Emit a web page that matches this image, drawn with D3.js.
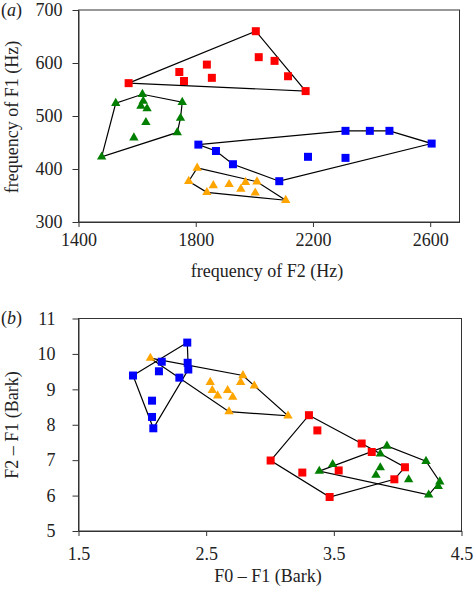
<!DOCTYPE html>
<html><head><meta charset="utf-8">
<script src="https://cdn.jsdelivr.net/npm/d3@7"></script>
<style>body{margin:0;background:#fff}</style>
</head><body><svg id="c" width="474" height="590"></svg>
<script>
// Panel (a): F2 (Hz) vs F1 (Hz)
const aRed = [[1571,562],[2005,660],[2015,611],[2069,604],[2115,575],[2175,547],[1744,583],[1760,566],[1838,597],[1855,572]];
const aRedHull = [0,1,5];
const aGreen = [[1479,423],[1527,524],[1618,541],[1621,528],[1613,519],[1634,514],[1630,488],[1589,459],[1754,526],[1748,496],[1737,469]];
const aGreenHull = [0,1,2,8,9,10];
const aBlue = [[1809,446],[1869,434],[1927,409],[2085,377],[2183,423],[2311,421],[2311,472],[2394,472],[2461,472],[2605,448]];
const aBlueHull = [0,6,7,8,9,3,2,1];
const aOrange = [[1805,402],[1776,377],[1838,356],[1860,369],[1914,371],[1954,362],[1970,375],[2009,376],[2003,355],[2107,341]];
const aOrangeHull = [0,7,9,2,1];
const aXTicks = [1400,1800,2200,2600];
const aYTicks = [300,400,500,600,700];

// Panel (b): F0-F1 (Bark) vs F2-F1 (Bark)
const bBlue = [[2.352,10.32],[2.152,9.78],[2.355,9.75],[2.36,9.56],[2.13,9.51],[1.927,9.39],[2.29,9.33],[2.076,8.68],[2.076,8.22],[2.086,7.90]];
const bBlueHull = [5,0,3,9];
const bOrange = [[2.063,9.88],[2.788,9.39],[2.77,9.20],[2.877,9.10],[2.532,9.20],[2.548,8.97],[2.668,8.97],[2.59,8.82],[2.708,8.78],[2.679,8.37],[3.141,8.25]];
const bOrangeHull = [0,1,10,9];
const bRed = [[3.305,8.27],[3.371,7.84],[3.718,7.47],[3.797,7.23],[4.057,6.80],[3.974,6.46],[3.538,6.71],[3.253,6.65],[3.005,6.99],[3.467,5.96]];
const bRedHull = [0,2,4,5,9,8];
const bGreen = [[3.916,7.40],[3.864,7.18],[4.222,6.97],[3.491,6.88],[3.386,6.69],[3.864,6.79],[3.83,6.58],[4.086,6.45],[4.33,6.39],[4.318,6.26],[4.243,6.02]];
const bGreenHull = [4,0,2,8,10];
const bXTicks = [1.5,2.5,3.5,4.5];
const bYTicks = [5,6,7,8,9,10,11];

const RED="#ff0000", GREEN="#007f00", BLUE="#0000ff", ORANGE="#ffa500";
const FONT = "'Liberation Serif', 'Times New Roman', Times, serif";
const FS = "18px";
const svg = d3.select("#c");

function panel(cfg){
  const g = svg.append("g");
  const x = d3.scaleLinear().domain(cfg.xd).range(cfg.xr);
  const y = d3.scaleLinear().domain(cfg.yd).range(cfg.yr);
  g.append("rect").attr("x",cfg.xr[0]).attr("y",cfg.yr[1]).attr("width",cfg.xr[1]-cfg.xr[0]).attr("height",cfg.yr[0]-cfg.yr[1])
   .attr("fill","none").attr("stroke","#333").attr("stroke-width",1);
  const xa = g.append("g").attr("transform",`translate(0,${cfg.yr[0]})`)
    .call(d3.axisBottom(x).tickValues(cfg.xt).tickSize(5).tickSizeOuter(0).tickPadding(cfg.xpad).tickFormat(cfg.xf));
  const ya = g.append("g").attr("transform",`translate(${cfg.xr[0]},0)`)
    .call(d3.axisLeft(y).tickValues(cfg.yt).tickSize(6).tickSizeOuter(0).tickPadding(cfg.ypad).tickFormat(d3.format("d")));
  [xa,ya].forEach(a=>{a.attr("font-family",FONT).attr("font-size",18);
    a.select(".domain").attr("stroke","#333");a.selectAll(".tick line").attr("stroke","#333");
    a.selectAll("text").attr("fill","#222").style("font-family",FONT).style("font-size",FS);});
  const line = d3.line().x(d=>x(d[0])).y(d=>y(d[1])).curve(d3.curveLinearClosed);
  cfg.series.forEach(s=>{
    g.append("path").attr("d",line(s.hull.map(i=>s.data[i]))).attr("fill","none").attr("stroke","#000").attr("stroke-width",1.2);
  });
  cfg.series.forEach(s=>{
    const sym = d3.symbol().type(s.shape==="sq"?d3.symbolSquare:d3.symbolTriangle).size(s.shape==="sq"?64:38);
    g.selectAll(null).data(s.data).enter().append("path")
      .attr("d",sym).attr("transform",d=>`translate(${x(d[0])},${y(d[1])})`)
      .attr("fill",s.color);
  });
  const T = sel => sel.style("font-family",FONT).style("font-size",FS).attr("fill","#222");
  g.append("text").attr("x",(cfg.xr[0]+cfg.xr[1])/2-2).attr("y",cfg.xtY).attr("text-anchor","middle").call(T).text(cfg.xtitle);
  g.append("text").attr("transform",`translate(18,${cfg.ytC}) rotate(-90)`).attr("text-anchor","middle").call(T).text(cfg.ytitle);
  const lab = g.append("text").attr("x",1).attr("y",cfg.labY).call(T);
  lab.append("tspan").text("(");
  lab.append("tspan").style("font-style","italic").text(cfg.lab);
  lab.append("tspan").text(")");
}

panel({xd:[1400,2700],xr:[78.5,459.5],yd:[300,700],yr:[222,10],xt:aXTicks,yt:aYTicks,
  xf:d3.format("d"),xpad:6,ypad:10,xtY:277,ytC:117,labY:16,lab:"a",
  xtitle:"frequency of F2 (Hz)",ytitle:"frequency of F1 (Hz)",
  series:[{data:aRed,hull:aRedHull,color:RED,shape:"sq"},{data:aGreen,hull:aGreenHull,color:GREEN,shape:"tri"},
          {data:aBlue,hull:aBlueHull,color:BLUE,shape:"sq"},{data:aOrange,hull:aOrangeHull,color:ORANGE,shape:"tri"}]});

panel({xd:[1.5,4.5],xr:[78.5,461.5],yd:[5,11],yr:[531,318.5],xt:bXTicks,yt:bYTicks,
  xf:d3.format(".1f"),xpad:11,ypad:17,xtY:582,ytC:425,labY:324,lab:"b",
  xtitle:"F0 – F1 (Bark)",ytitle:"F2 – F1 (Bark)",
  series:[{data:bBlue,hull:bBlueHull,color:BLUE,shape:"sq"},{data:bOrange,hull:bOrangeHull,color:ORANGE,shape:"tri"},
          {data:bRed,hull:bRedHull,color:RED,shape:"sq"},{data:bGreen,hull:bGreenHull,color:GREEN,shape:"tri"}]});
</script></body></html>
